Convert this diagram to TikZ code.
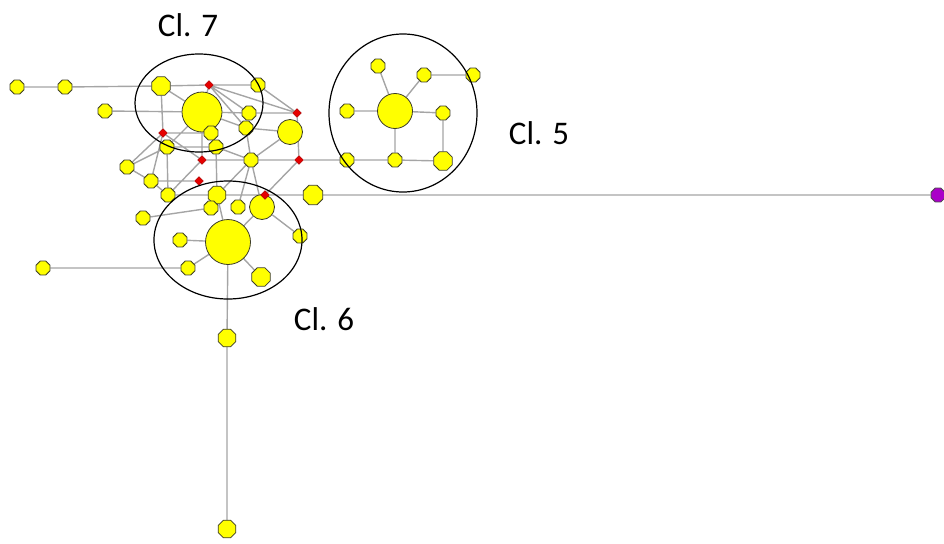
\documentclass[tikz,border=0pt]{standalone}
\usepackage{fontspec}
\setmainfont{Carlito}
\usetikzlibrary{shapes.geometric}
\pgfdeclarelayer{background}
\pgfsetlayers{background,main}
\definecolor{ylw}{RGB}{255,255,0}
\definecolor{edgegray}{RGB}{165,165,165}
\definecolor{nodeline}{RGB}{60,60,40}
\definecolor{redn}{RGB}{230,0,0}
\definecolor{purp}{RGB}{170,0,200}
\tikzset{
  vtx/.style={regular polygon, regular polygon sides=8, fill=ylw, draw=nodeline, line width=0.8pt, inner sep=0pt, minimum size=#1},
  vtx/.default=15pt,
  hub/.style={circle, fill=ylw, draw=nodeline, line width=0.8pt, inner sep=0pt, minimum size=#1},
  rd/.style={diamond, fill=redn, draw=red!60!black, line width=0.4pt, inner sep=0pt, minimum size=9pt},
  pp/.style={regular polygon, regular polygon sides=8, fill=purp, draw=black!70, line width=0.8pt, inner sep=0pt, minimum size=15pt},
  ed/.style={draw=edgegray, line width=1.4pt},
  clu/.style={draw=black, line width=1.2pt},
  lbl/.style={font=\fontsize{33pt}{37pt}\selectfont, inner sep=0pt}
}
\begin{document}
\begin{tikzpicture}[x=1pt,y=-1pt]
\useasboundingbox (0,0) rectangle (944,543);
% nodes
\node[vtx] (a1) at (17,87) {};
\node[vtx] (a2) at (65,87) {};
\node[vtx=20pt] (b1) at (161,86) {};
\node[rd] (r1) at (209,85) {};
\node[vtx] (c1) at (258,85) {};
\node[vtx] (a3) at (105,111) {};
\node[hub=40pt] (g7) at (202,112) {};
\node[vtx] (n1) at (249,113) {};
\node[rd] (r2) at (297,113) {};
\node[vtx] (n2) at (246,128) {};
\node[hub=25pt] (m1) at (290,132) {};
\node[vtx] (n3) at (211,133) {};
\node[rd] (r3) at (163,133) {};
\node[vtx] (n4) at (167,147) {};
\node[vtx] (n5) at (216,147) {};
\node[vtx] (n6) at (127,167) {};
\node[rd] (r4) at (202,160) {};
\node[vtx] (n7) at (251,160) {};
\node[rd] (r5) at (299,160) {};
\node[vtx] (n8) at (151,181) {};
\node[rd] (r6) at (199,181) {};
\node[vtx] (n9) at (168,195) {};
\node[vtx=19pt] (m2) at (217,195) {};
\node[vtx=21pt] (m3) at (313,195) {};
\node[vtx] (n10) at (211,208) {};
\node[vtx] (n11) at (238,207) {};
\node[hub=25pt] (m4) at (262,207) {};
\node[rd] (r7) at (265,195) {};
\node[vtx] (n12) at (143,218) {};
\node[vtx] (n13) at (300,236) {};
\node[vtx] (n14) at (180,240) {};
\node[hub=45pt] (g6) at (228,242) {};
\node[vtx] (n15) at (43,268) {};
\node[vtx] (n16) at (188,268) {};
\node[vtx=20pt] (m5) at (261,277) {};
\node[vtx=19pt] (m6) at (227,338) {};
\node[vtx=19pt] (m7) at (227,529) {};
\node[pp] (p) at (938,195) {};
% cluster 5
\node[hub=35pt] (g5) at (395,111) {};
\node[vtx] (q1) at (378,66) {};
\node[vtx] (q2) at (424,75) {};
\node[vtx] (q3) at (473,75) {};
\node[vtx] (q4) at (347,111) {};
\node[vtx] (q5) at (443,113) {};
\node[vtx] (q6) at (347,160) {};
\node[vtx] (q7) at (395,160) {};
\node[vtx=20pt] (q8) at (443,161) {};
% edges
\begin{pgfonlayer}{background}
\path[ed] (a1)--(a2) (a2)--(b1) (b1)--(r1) (r1)--(c1)
  (a3)--(g7) (b1)--(g7) (b1)--(r3)
  (r1)--(n1) (r1)--(n2) (r1)--(r2) (r1)--(g7)
  (c1)--(r2) (g7)--(n1) (n1)--(r2) (g7)--(n2) (n2)--(m1)
  (r2)--(r5) (m1)--(n7) (n2)--(n7)
  (r4)--(n7) (n7)--(r5) (r5)--(q6)
  (g7)--(n3) (n3)--(n5) (g7)--(r4) (n5)--(m2) (n5)--(n7)
  (r3)--(n3) (r3)--(n6) (r3)--(n8) (r3)--(r4)
  (g7)--(n4) (n4)--(n5) (n6)--(n4) (n6)--(n8)
  (n8)--(r6) (n8)--(n9) (n9)--(r4) (n4)--(n9)
  (n9)--(m2) (m2)--(r7) (r7)--(m3) (m3)--(p)
  (r5)--(r7) (r7)--(m4) (m4)--(n13)
  (n7)--(m2) (n7)--(n11) (n7)--(m4)
  (n12)--(n10) (n10)--(m2) (m2)--(g6)
  (g6)--(n14) (g6)--(n16) (n16)--(n15) (g6)--(m5)
  (g6)--(m6) (m6)--(m7) (g6)--(m4)
  (g5)--(q1) (g5)--(q2) (q2)--(q3) (g5)--(q4) (g5)--(q5)
  (q5)--(q8) (g5)--(q7) (q6)--(q7) (q7)--(q8);
\end{pgfonlayer}
% cluster outlines
\draw[clu] (199,103) ellipse [x radius=64pt, y radius=49pt];
\draw[clu] (228,240) ellipse [x radius=74pt, y radius=59pt];
\draw[clu] (403,113) ellipse [x radius=74pt, y radius=79pt];
% labels
\node[lbl] (l7) at (188,25) {Cl. 7};
\node[lbl] (l5) at (539,133) {Cl. 5};
\node[lbl] (l6) at (324,319) {Cl. 6};
\end{tikzpicture}
\end{document}
